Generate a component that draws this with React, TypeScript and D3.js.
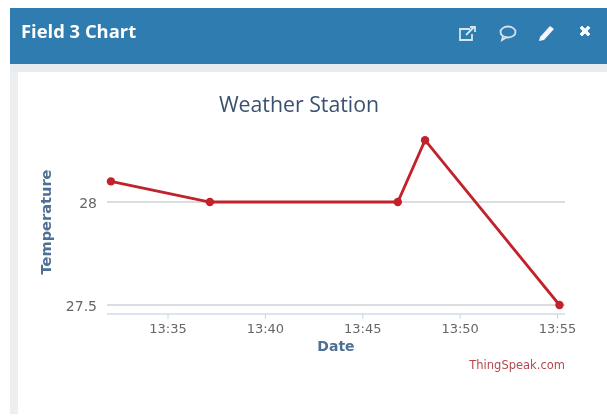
import React from "react";
import * as d3 from "d3";

const timeMinutes = [32.07, 37.15, 46.8, 48.2, 55.1];
const temperatures = [28.1, 28.0, 28.0, 28.3, 27.5];
const xTicks = [35, 40, 45, 50, 55];
const yTicks = [27.5, 28];
const xLabel = (m: number) => `13:${m}`;
const yLabel = (v: number) => String(v);

const x = d3.scaleLinear().domain([35, 55]).range([168, 557.5]);
const y = d3.scaleLinear().domain([27.5, 28]).range([305, 202]);
const line = d3.line<number>().x((_, i) => x(timeMinutes[i])).y((d) => y(d));
const font = "'DejaVu Sans', sans-serif";
const headerFont = "'Open Sans', sans-serif";

export default function App() {
  return (
    <svg width={607} height={416} style={{ position: "absolute", left: 0, top: 0, background: "#fff" }}>
      <defs>
        <filter id="soft" x="-5%" y="-5%" width="110%" height="110%">
          <feGaussianBlur stdDeviation="0.6" />
        </filter>
      </defs>
      <g filter="url(#soft)">
        <rect x={10} y={8} width={597} height={406} fill="#eeeeee" />
        <rect x={10} y={8} width={597} height={56} fill="#2f7bb0" />
        <rect x={10} y={64} width={597} height={8} fill="#e6ecef" />
        <rect x={18} y={72} width={589} height={342} fill="#ffffff" />
        <text x={21} y={38} fill="#fff" fontFamily={headerFont} fontSize={18.4} fontWeight={700}>Field 3 Chart</text>

        {/* header icons */}
        <g fill="none" stroke="#d5e5f0" strokeWidth={1.8}>
          <path d="M470 29h-10v11h12v-6" />
          <path d="M466 35l8-8M470 27h5v5" />
          <ellipse cx={508} cy={32} rx={7.5} ry={5.5} />
          <path d="M503 36l-1 4 5-3" />
        </g>
        <path d="M540 37l10-11 4 3-10 11-5 1z" fill="#f2f7fb" />
        <path d="M580 28l2-2 3 3 3-3 2 2-3 3 3 3-2 2-3-3-3 3-2-2 3-3z" fill="#fbfdfe" stroke="#fbfdfe" strokeWidth={0.8} />

        <text x={299} y={112} textAnchor="middle" fill="#3b5170" fontFamily={headerFont} fontSize={21.3}>Weather Station</text>

        {yTicks.map((t) => (
          <g key={t}>
            <line x1={107} x2={565} y1={y(t)} y2={y(t)} stroke="#b8bcc2" strokeWidth={1.2} />
            <text x={97} y={y(t) + 6} textAnchor="end" fill="#666" fontFamily={font} fontSize={14}>{yLabel(t)}</text>
          </g>
        ))}
        <line x1={107} x2={565} y1={314} y2={314} stroke="#b8cbe0" strokeWidth={1.2} />
        {xTicks.map((t) => (
          <g key={t}>
            <line x1={x(t)} x2={x(t)} y1={314} y2={319} stroke="#c8d6e4" strokeWidth={1} />
            <text x={x(t)} y={333} textAnchor="middle" fill="#666" fontFamily={font} fontSize={13}>{xLabel(t)}</text>
          </g>
        ))}
        <text x={336} y={351} textAnchor="middle" fill="#4d6f94" fontFamily={font} fontSize={14} fontWeight={700}>Date</text>
        <text transform="translate(51,222) rotate(-90)" textAnchor="middle" fill="#4d6f94" fontFamily={font} fontSize={14.6} fontWeight={700}>Temperature</text>
        <text x={565} y={369} textAnchor="end" fill="#b5474f" fontFamily={font} fontSize={11.5}>ThingSpeak.com</text>

        <path d={line(temperatures) ?? ""} fill="none" stroke="#c2202a" strokeWidth={2.8} />
        {temperatures.map((v, i) => (
          <circle key={i} cx={x(timeMinutes[i])} cy={y(v)} r={4.2} fill="#c2202a" />
        ))}
      </g>
    </svg>
  );
}
